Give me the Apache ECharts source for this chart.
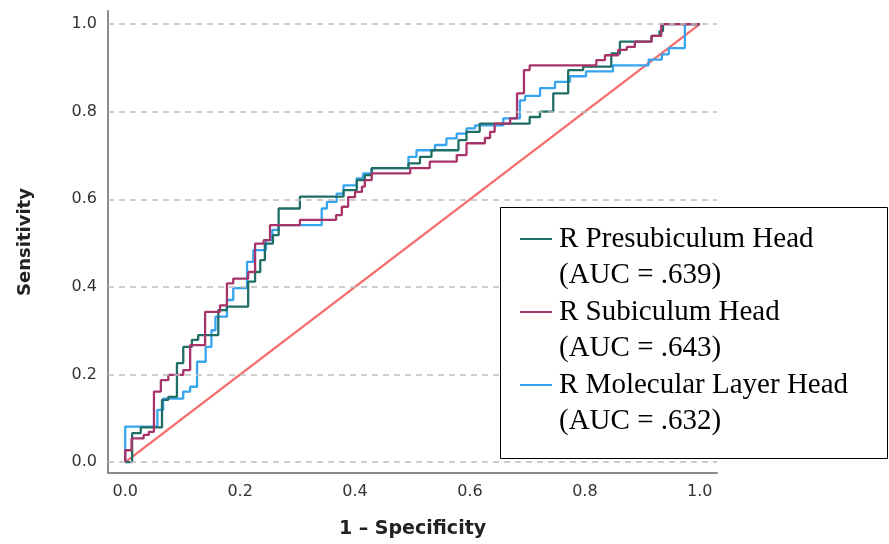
<!DOCTYPE html>
<html>
<head>
<meta charset="utf-8">
<script src="https://cdn.jsdelivr.net/npm/echarts@6/dist/echarts.min.js"></script>
<style>
  html, body { margin: 0; padding: 0; background: #ffffff; }
  #chart { width: 889px; height: 544px; }
</style>
</head>
<body>
<div id="chart"></div>
<script>
// ---- Data (ROC step points: [1 - specificity, sensitivity]; each point is where the next rise happens) ----
const seriesNames = ['R Presubiculum Head', 'R Subiculum Head', 'R Molecular Layer Head'];
const aucLabels = ['(AUC = .639)', '(AUC = .643)', '(AUC = .632)'];
const tickValues = [0, 0.2, 0.4, 0.6, 0.8, 1.0];

const presubiculum = [
  [0, 0], [0.012, 0], [0.027, 0.066], [0.064, 0.079], [0.075, 0.142], [0.090, 0.149],
  [0.101, 0.226], [0.116, 0.263], [0.127, 0.279], [0.162, 0.290], [0.177, 0.347],
  [0.214, 0.355], [0.226, 0.412], [0.235, 0.434], [0.243, 0.461], [0.257, 0.499],
  [0.267, 0.518], [0.304, 0.579], [0.380, 0.606], [0.403, 0.621], [0.417, 0.644],
  [0.429, 0.655], [0.493, 0.671], [0.513, 0.682], [0.533, 0.697], [0.580, 0.712],
  [0.594, 0.735], [0.617, 0.754], [0.704, 0.773], [0.722, 0.788], [0.745, 0.800],
  [0.771, 0.842], [0.797, 0.895], [0.846, 0.903], [0.861, 0.933], [0.916, 0.960],
  [0.930, 0.973], [0.936, 0.984], [1.0, 1.0]
];
const subiculum = [
  [0, 0], [0.011, 0.027], [0.032, 0.054], [0.041, 0.062], [0.050, 0.069], [0.062, 0.161],
  [0.075, 0.187], [0.101, 0.199], [0.113, 0.210], [0.139, 0.267], [0.165, 0.343],
  [0.177, 0.358], [0.188, 0.408], [0.214, 0.419], [0.226, 0.434], [0.241, 0.499],
  [0.252, 0.507], [0.304, 0.541], [0.367, 0.553], [0.377, 0.564], [0.388, 0.583],
  [0.400, 0.605], [0.412, 0.617], [0.417, 0.629], [0.429, 0.644], [0.496, 0.659],
  [0.530, 0.671], [0.577, 0.686], [0.594, 0.701], [0.626, 0.728], [0.635, 0.740],
  [0.643, 0.754], [0.670, 0.773], [0.682, 0.785], [0.694, 0.842], [0.704, 0.895],
  [0.820, 0.906], [0.835, 0.918], [0.858, 0.929], [0.873, 0.941], [0.887, 0.948],
  [0.916, 0.960], [0.933, 0.973], [1.0, 1.0]
];
const molecular = [
  [0, 0], [0.056, 0.081], [0.066, 0.119], [0.101, 0.145], [0.113, 0.161], [0.125, 0.172],
  [0.140, 0.229], [0.150, 0.263], [0.157, 0.301], [0.177, 0.332], [0.188, 0.370],
  [0.212, 0.397], [0.223, 0.457], [0.245, 0.484], [0.256, 0.507], [0.267, 0.530],
  [0.342, 0.541], [0.351, 0.579], [0.368, 0.594], [0.380, 0.613], [0.403, 0.632],
  [0.414, 0.648], [0.429, 0.659], [0.493, 0.671], [0.507, 0.697], [0.539, 0.712],
  [0.559, 0.724], [0.577, 0.739], [0.594, 0.750], [0.609, 0.762], [0.658, 0.769],
  [0.687, 0.785], [0.696, 0.826], [0.722, 0.836], [0.748, 0.854], [0.774, 0.868],
  [0.802, 0.881], [0.849, 0.892], [0.911, 0.906], [0.934, 0.919], [0.946, 0.931],
  [0.974, 0.945], [1.0, 1.0]
];
const diagonal = [[0, 0], [1, 1]];

const colors = ['#1f6e66', '#a8336a', '#36a4ee'];
const diagColor = '#f66b6b';

const chart = echarts.init(document.getElementById('chart'), null, { renderer: 'canvas' });

const labelFmt = v => Number(v).toFixed(1);
const legendFont = '29px "Liberation Serif", "Times New Roman", serif';

const legendEls = [];
legendEls.push({
  type: 'rect', z: 100,
  shape: { x: 500.5, y: 207.5, width: 387, height: 251 },
  style: { fill: '#ffffff', stroke: '#000000', lineWidth: 1 }
});
seriesNames.forEach((name, i) => {
  const yTop = 239 + i * 73;
  legendEls.push({
    type: 'line', z: 101,
    shape: { x1: 520, y1: yTop, x2: 552, y2: yTop },
    style: { stroke: colors[i], lineWidth: 2 }
  });
  legendEls.push({
    type: 'text', z: 101, x: 559, y: yTop,
    style: { text: name, fill: '#000', font: legendFont, textVerticalAlign: 'middle' }
  });
  legendEls.push({
    type: 'text', z: 101, x: 559, y: yTop + 36.5,
    style: { text: aucLabels[i], fill: '#000', font: legendFont, textVerticalAlign: 'middle' }
  });
});

const curveSeries = [
  { name: seriesNames[2], data: molecular, color: colors[2] },
  { name: seriesNames[0], data: presubiculum, color: colors[0] },
  { name: seriesNames[1], data: subiculum, color: colors[1] }
].map(s => ({
  name: s.name, type: 'line', data: s.data, step: 'start',
  showSymbol: false, symbol: 'none', silent: true,
  lineStyle: { color: s.color, width: 2.3 }, itemStyle: { color: s.color }
}));

const option = {
  animation: false,
  backgroundColor: '#ffffff',
  grid: { left: 108, top: 11, width: 609, height: 462, containLabel: false, outerBoundsMode: 'none' },
  xAxis: {
    type: 'value', min: -0.03, max: 1.03,
    name: '1 \u2013 Specificity', nameLocation: 'middle', nameGap: 47,
    nameTextStyle: { fontFamily: 'DejaVu Sans', fontWeight: 'bold', fontSize: 19, color: '#222' },
    axisLine: { show: true, onZero: false, lineStyle: { color: '#8a8a8a', width: 2 } },
    axisTick: { show: false, customValues: tickValues },
    splitLine: { show: false },
    axisLabel: { customValues: tickValues, formatter: labelFmt, margin: 11, fontFamily: 'DejaVu Sans', fontSize: 16, color: '#333' }
  },
  yAxis: {
    type: 'value', min: -0.025, max: 1.03,
    name: 'Sensitivity', nameLocation: 'middle', nameGap: 74, nameRotate: 90,
    nameTextStyle: { fontFamily: 'DejaVu Sans', fontWeight: 'bold', fontSize: 18, color: '#222' },
    axisLine: { show: true, onZero: false, lineStyle: { color: '#8a8a8a', width: 2 } },
    axisTick: { show: false, customValues: tickValues },
    splitLine: { show: false },
    axisLabel: { customValues: tickValues, formatter: labelFmt, margin: 11, fontFamily: 'DejaVu Sans', fontSize: 16, color: '#333' }
  },
  series: [
    {
      name: 'Reference', type: 'line', data: diagonal, showSymbol: false, symbol: 'none', silent: true,
      lineStyle: { color: diagColor, width: 2.3 },
      markLine: {
        silent: true, symbol: 'none', label: { show: false },
        lineStyle: { color: '#bdbdbd', type: [6, 5], width: 1.5 },
        data: tickValues.map(v => ({ yAxis: v }))
      },
      z: 1
    }
  ].concat(curveSeries),
  graphic: legendEls
};
chart.setOption(option);
</script>
</body>
</html>
